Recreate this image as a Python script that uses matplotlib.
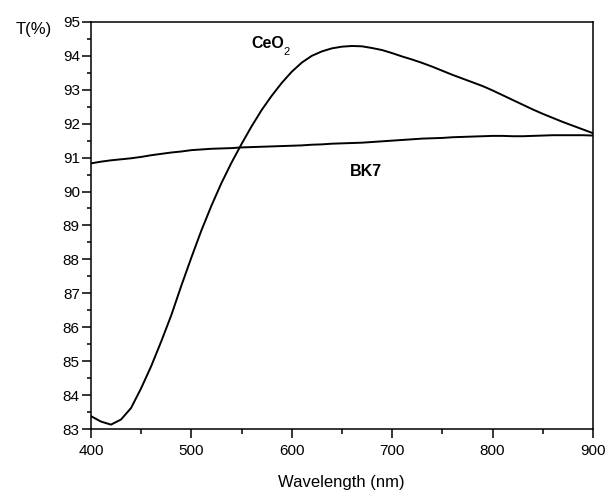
import numpy as np
import matplotlib
matplotlib.use('Agg')
import matplotlib.pyplot as plt
from matplotlib.ticker import MultipleLocator

plt.rcParams['font.family'] = ['Liberation Sans', 'DejaVu Sans']

# wavelength grid (nm) and transmittance values
wavelength = np.arange(400, 901, 10)

ceo2 = [83.38, 83.22, 83.13, 83.28, 83.62, 84.20, 84.85, 85.58, 86.35, 87.22,
        88.05, 88.85, 89.58, 90.25, 90.85, 91.40, 91.92, 92.40, 92.82, 93.20,
        93.53, 93.80, 94.00, 94.13, 94.22, 94.27, 94.29, 94.28, 94.23, 94.17,
        94.08, 93.98, 93.89, 93.79, 93.68, 93.56, 93.44, 93.33, 93.22, 93.11,
        92.98, 92.84, 92.70, 92.56, 92.42, 92.29, 92.17, 92.05, 91.94, 91.83,
        91.72]

bk7 = [90.83, 90.88, 90.92, 90.95, 90.98, 91.02, 91.07, 91.11, 91.15, 91.18,
       91.22, 91.24, 91.26, 91.27, 91.28, 91.30, 91.31, 91.32, 91.33, 91.34,
       91.35, 91.36, 91.38, 91.39, 91.41, 91.42, 91.43, 91.44, 91.46, 91.48,
       91.50, 91.52, 91.54, 91.56, 91.57, 91.58, 91.60, 91.61, 91.62, 91.63,
       91.64, 91.64, 91.63, 91.63, 91.64, 91.65, 91.66, 91.66, 91.66, 91.66,
       91.65]

fig = plt.figure(figsize=(6.06, 4.92), dpi=100)
ax = fig.add_axes([0.150, 0.128, 0.8285, 0.8275])

ax.plot(wavelength, ceo2, color='black', lw=1.4)
ax.plot(wavelength, bk7, color='black', lw=1.4)

ax.set_xlim(400, 900)
ax.set_ylim(83, 95)
ax.xaxis.set_major_locator(MultipleLocator(100))
ax.xaxis.set_minor_locator(MultipleLocator(50))
ax.yaxis.set_major_locator(MultipleLocator(1))
ax.yaxis.set_minor_locator(MultipleLocator(0.5))
ax.tick_params(which='both', direction='out', top=False, right=False,
               width=1.1, labelsize=11)
ax.tick_params(axis='y', which='major', length=6.5, pad=1.5)
ax.tick_params(axis='y', which='minor', length=3.2)
ax.tick_params(axis='x', which='major', length=6.5, pad=4.5)
ax.tick_params(axis='x', which='minor', length=3.5)
for s in ax.spines.values():
    s.set_linewidth(1.1)

ax.text(560, 94.35, 'CeO', fontsize=11.5, fontweight='bold',
        va='center', ha='left')
ax.text(592, 94.1, '2', fontsize=8, va='center', ha='left')
ax.text(658, 90.58, 'BK7', fontsize=11.5, fontweight='bold', va='center', ha='left')

fig.text(0.025, 0.941, 'T(%)', fontsize=12, va='center', ha='left')
fig.text(0.5635, 0.020, 'Wavelength (nm)', fontsize=12, va='center', ha='center')

fig.savefig('out.png', dpi=100)
